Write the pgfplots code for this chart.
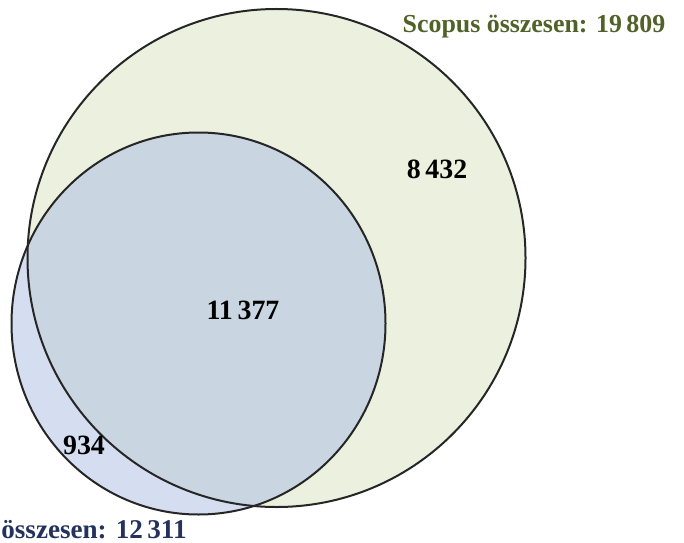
\documentclass[border=0pt]{standalone}
\usepackage{pgfplots}
\pgfplotsset{compat=1.18}
\usepackage{fontspec}
\setmainfont{Liberation Serif}
\definecolor{scgreen}{HTML}{EBF1DE}
\definecolor{wosblue}{HTML}{D5DDF0}
\definecolor{overlap}{HTML}{C9D6E1}
\definecolor{sctext}{HTML}{4F6228}
\definecolor{wostext}{HTML}{24335E}
\begin{document}
\begin{tikzpicture}
\begin{axis}[name=ax, scale only axis, width=342bp, height=271.5bp,
  xmin=0, xmax=684, ymin=0, ymax=543, y dir=reverse, hide axis, clip=false]
% Scopus (green) and WoS (blue) sets
\fill[scgreen] (axis cs:276.5,258) ellipse [x radius=249, y radius=249];
\fill[wosblue] (axis cs:198.5,323.5) ellipse [x radius=187, y radius=191];
\begin{scope}
\clip (axis cs:276.5,258) ellipse [x radius=249, y radius=249];
\fill[overlap] (axis cs:198.5,323.5) ellipse [x radius=187, y radius=191];
\end{scope}
\draw[line width=1bp, black!85] (axis cs:276.5,258) ellipse [x radius=249, y radius=249];
\draw[line width=1bp, black!85] (axis cs:198.5,323.5) ellipse [x radius=187, y radius=191];
% values
\node[anchor=base, font=\bfseries\fontsize{14}{16}\selectfont] at (axis cs:437,178) {8\,432};
\node[anchor=base, font=\bfseries\fontsize{14}{16}\selectfont] at (axis cs:243,319) {11\,377};
\node[anchor=base, font=\bfseries\fontsize{14}{16}\selectfont] at (axis cs:84,454) {934};
\node[anchor=base, font=\bfseries\fontsize{13}{15}\selectfont, text=sctext] at (axis cs:534,33) {Scopus összesen: 19\,809};
\node[anchor=base west, font=\bfseries\fontsize{13.6}{15}\selectfont, text=wostext, inner xsep=0pt] at (axis cs:1,538) {összesen: 12\,311};
\end{axis}
\pgfresetboundingbox
\useasboundingbox (ax.south west) rectangle (ax.north east);
\end{tikzpicture}
\end{document}
